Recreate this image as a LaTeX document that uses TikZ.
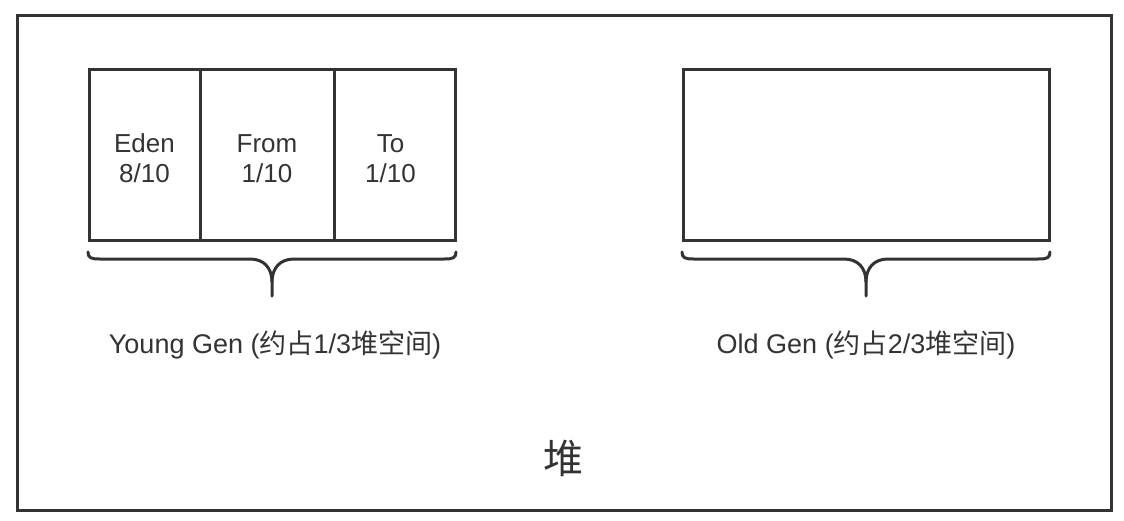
\documentclass[tikz,border=0pt]{standalone}
\usepackage{fontspec}
\setmainfont{Liberation Sans}
\newfontfamily\cjk{Noto Sans CJK SC}
\usepackage{tikz}
\usetikzlibrary{positioning}
\definecolor{heapgray}{HTML}{333333}
\tikzset{
  heapline/.style={ draw=heapgray, line width=3pt }
}
\tikzset{
  cell/.style={ heapline, minimum height=171pt, inner sep=0pt, outer sep=0pt }
}
\tikzset{
  celltext/.style={ align=center, yshift=-4pt, font=\fontsize{26}{30}\selectfont, text=heapgray }
}
\tikzset{
  genlabel/.style={ font=\fontsize{27}{30}\selectfont, text=heapgray }
}
\tikzset{
  pics/genbrace/.style={ code={
    \draw[heapline, line cap=round, line join=round]
      (-#1,0) .. controls (-#1,6) and (-#1+3,7) .. (-#1+12,7) -- (-22,7)
      .. controls (-8,7) and (0,16) .. (0,30) -- (0,44);
    \draw[heapline, line cap=round, line join=round]
      (#1,0) .. controls (#1,6) and (#1-3,7) .. (#1-12,7) -- (22,7)
      .. controls (8,7) and (0,16) .. (0,30);
  } }
}

\begin{document}
\begin{tikzpicture}[x=1pt, y=-1pt]
      \useasboundingbox (0,0) rectangle (1124,520);
      \draw[heapline] (17,15) rectangle (1111,510);

      \node[cell, minimum width=111pt, label={[celltext]center:{Eden\\8/10}}] (eden) at (144.5,154.5) {};
      \node[cell, minimum width=134pt, right=0pt of eden, label={[celltext]center:{From\\1/10}}] (from) {};
      \node[cell, minimum width=121pt, right=0pt of from, label={[celltext, xshift=-4pt]center:{To\\1/10}}] (to) {};

      \node[cell, minimum width=366pt] (old) at (866,154.5) {};

      \pic at (272,252) {genbrace=184};
      \pic at (866,252) {genbrace=184};

      \node[genlabel] (younglabel) at (275,345) {Young Gen ({\cjk 约占}1/3{\cjk 堆空间})};
      \node[genlabel] (oldlabel) at (866,345) {Old Gen ({\cjk 约占}2/3{\cjk 堆空间})};

      \node[font=\cjk\fontsize{40}{44}\selectfont, text=heapgray] (heap) at (563,458) {堆};
    \end{tikzpicture}
\end{document}
